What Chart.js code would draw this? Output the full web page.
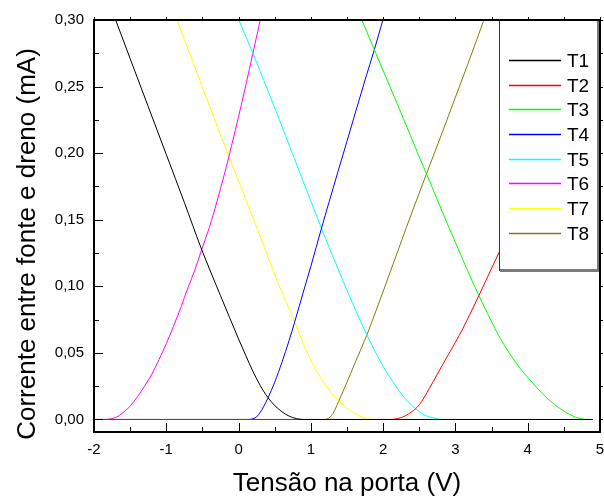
<!DOCTYPE html>
<html>
<head>
<meta charset="utf-8">
<script src="https://cdn.jsdelivr.net/npm/chart.js@4/dist/chart.umd.min.js"></script>
<style>
html,body{margin:0;padding:0;background:#fff;}
canvas{display:block;}
</style>
</head>
<body>
<canvas id="c" width="604" height="496"></canvas>
<script>
// ---- data (gate voltage V, drain current mA) ----
const seriesNames  = ['T1','T2','T3','T4','T5','T6','T7','T8'];
const seriesColors = ['#000000','#ff0000','#00ff00','#0000ff','#00ffff','#ff00ff','#ffff00','#808000'];

const T1 = [[-1.70,0.300],[-1.50,0.271],[-1.25,0.235],[-1.00,0.199],[-0.75,0.163],[-0.52,0.129],[-0.25,0.093],[0.00,0.0605],[0.10,0.048],[0.20,0.036],[0.30,0.0255],[0.405,0.0165],[0.50,0.0105],[0.60,0.0058],[0.70,0.0025],[0.80,0.0007],[0.90,0],[4.90,0]];
const T2 = [[-2.00,0],[2.10,0],[2.20,0.0007],[2.30,0.0025],[2.40,0.006],[2.50,0.011],[2.64,0.0234],[2.75,0.034],[2.873,0.046],[3.00,0.058],[3.10,0.068],[3.20,0.079],[3.324,0.093],[3.47,0.110],[3.586,0.1235],[3.80,0.148],[4.00,0.172],[4.25,0.202],[4.50,0.232],[4.75,0.262],[4.90,0.280]];
const T3 = [[1.705,0.300],[2.00,0.262],[2.25,0.230],[2.50,0.197],[2.596,0.185],[2.75,0.165],[2.895,0.146],[3.00,0.133],[3.15,0.114],[3.324,0.093],[3.45,0.079],[3.564,0.0665],[3.68,0.0555],[3.794,0.046],[3.90,0.038],[4.025,0.030],[4.15,0.0225],[4.256,0.0165],[4.37,0.0112],[4.486,0.0068],[4.58,0.0038],[4.67,0.0016],[4.75,0.0004],[4.82,0],[4.90,0]];
const T4 = [[-2.00,0],[0.15,0],[0.20,0.0006],[0.25,0.002],[0.30,0.0055],[0.35,0.0100],[0.405,0.016],[0.50,0.028],[0.60,0.043],[0.70,0.0595],[0.775,0.073],[0.90,0.0965],[1.00,0.115],[1.144,0.143],[1.25,0.163],[1.50,0.209],[1.75,0.255],[1.88,0.278],[1.996,0.300]];
const T5 = [[0.004,0.300],[0.198,0.275],[0.50,0.234],[0.75,0.199],[1.00,0.164],[1.144,0.144],[1.30,0.123],[1.50,0.097],[1.775,0.0635],[2.00,0.040],[2.134,0.0284],[2.30,0.016],[2.45,0.008],[2.55,0.004],[2.64,0.002],[2.75,0.0005],[2.85,0],[4.90,0]];
const T6 = [[-2.00,0],[-1.85,0],[-1.80,0.0002],[-1.70,0.0015],[-1.60,0.005],[-1.50,0.010],[-1.40,0.017],[-1.30,0.025],[-1.20,0.034],[-1.10,0.045],[-1.00,0.057],[-0.90,0.070],[-0.80,0.084],[-0.70,0.099],[-0.60,0.113],[-0.52,0.126],[-0.40,0.145],[-0.30,0.1635],[-0.20,0.1835],[-0.138,0.1965],[-0.10,0.205],[0.00,0.2275],[0.10,0.251],[0.198,0.275],[0.30,0.300]];
const T7 = [[-0.853,0.300],[-0.60,0.264],[-0.40,0.235],[-0.138,0.198],[0.00,0.179],[0.253,0.144],[0.40,0.123],[0.55,0.102],[0.775,0.0735],[0.90,0.0565],[1.00,0.0445],[1.10,0.0345],[1.20,0.026],[1.30,0.019],[1.383,0.0142],[1.46,0.0103],[1.55,0.0065],[1.64,0.0036],[1.72,0.0016],[1.80,0.0004],[1.88,0],[4.90,0]];
const T8 = [[-2.00,0],[1.20,0],[1.22,0.0003],[1.27,0.0020],[1.32,0.0058],[1.383,0.0135],[1.50,0.028],[1.60,0.041],[1.775,0.0635],[1.90,0.0815],[2.043,0.1025],[2.20,0.126],[2.32,0.144],[2.596,0.184],[2.80,0.213],[3.00,0.242],[3.20,0.271],[3.393,0.300]];

const seriesData = [T1,T2,T3,T4,T5,T6,T7,T8];

const xTickValues = [-2,-1,0,1,2,3,4,5];
const yTickValues = [0,0.05,0.10,0.15,0.20,0.25,0.30];
const xTitle = 'Tensão na porta (V)';
const yTitle = 'Corrente entre fonte e dreno (mA)';

const FONT = '"Liberation Sans", Arial, Helvetica, sans-serif';

function midpoints(arr){ const o=[]; for(let i=0;i<arr.length-1;i++) o.push((arr[i]+arr[i+1])/2); return o; }

const decor = {
  id: 'decor',
  afterDatasetsDraw(chart) {
    const {ctx, chartArea: a, scales: {x, y}} = chart;
    ctx.save();

    // legend box (inside plot, covers curves)
    const lx = 499, ly = 21, lr = 600, lb = 272;
    ctx.fillStyle = '#ffffff';
    ctx.fillRect(lx, ly, lr - lx, lb - ly);
    ctx.fillStyle = '#7a7a7a';
    ctx.fillRect(lx + 1, lb - 3, lr - lx - 1, 3);   // bottom shadow
    ctx.fillRect(lr - 3, ly, 3, lb - ly);           // right shadow
    ctx.fillStyle = '#333333';
    ctx.fillRect(lx, ly, 1, lb - ly - 1);           // left edge

    const ds = chart.data.datasets;
    ctx.font = '19px ' + FONT;
    ctx.textAlign = 'left';
    ctx.textBaseline = 'alphabetic';
    for (let i = 0; i < ds.length; i++) {
      const yc = Math.round(60 + i * 24.67);
      ctx.strokeStyle = seriesColors[i];
      ctx.lineWidth = 1.6;
      ctx.beginPath();
      ctx.moveTo(509, yc + 0.5);
      ctx.lineTo(561, yc + 0.5);
      ctx.stroke();
      ctx.fillStyle = '#000';
      ctx.fillText(ds[i].label, 567, yc + 7);
    }

    // ticks
    ctx.strokeStyle = '#000';
    ctx.lineWidth = 1;
    ctx.beginPath();
    const xMin = midpoints(xTickValues);
    const yMin = midpoints(yTickValues);
    for (const v of xTickValues) {
      const p = Math.round(x.getPixelForValue(v)) + 0.5;
      ctx.moveTo(p, a.bottom); ctx.lineTo(p, a.bottom - 9);
      ctx.moveTo(p, a.top); ctx.lineTo(p, a.top - 3);
    }
    for (const v of xMin) {
      const p = Math.round(x.getPixelForValue(v)) + 0.5;
      ctx.moveTo(p, a.bottom); ctx.lineTo(p, a.bottom - 5);
      ctx.moveTo(p, a.top); ctx.lineTo(p, a.top - 3);
    }
    for (const v of yTickValues) {
      const p = Math.round(y.getPixelForValue(v)) + 0.5;
      ctx.moveTo(a.left, p); ctx.lineTo(a.left + 9, p);
      ctx.moveTo(a.right, p); ctx.lineTo(a.right + 3, p);
    }
    for (const v of yMin) {
      const p = Math.round(y.getPixelForValue(v)) + 0.5;
      ctx.moveTo(a.left, p); ctx.lineTo(a.left + 5, p);
      ctx.moveTo(a.right, p); ctx.lineTo(a.right + 3, p);
    }
    ctx.stroke();

    // frame
    ctx.lineWidth = 2;
    ctx.strokeStyle = '#000';
    ctx.strokeRect(a.left, a.top, a.right - a.left, a.bottom - a.top);

    // axis titles
    ctx.fillStyle = '#000';
    ctx.font = '26px ' + FONT;
    ctx.textAlign = 'center';
    ctx.textBaseline = 'alphabetic';
    ctx.fillText(xTitle, (a.left + a.right) / 2, 491);
    ctx.translate(35, 244);
    ctx.rotate(-Math.PI / 2);
    ctx.fillText(yTitle, 0, 0);
    ctx.restore();
  }
};

new Chart(document.getElementById('c'), {
  type: 'line',
  data: {
    datasets: seriesData.map((d, i) => ({
      label: seriesNames[i],
      data: d.map(([vx, vy]) => ({x: vx, y: vy})),
      borderColor: seriesColors[i],
      backgroundColor: seriesColors[i],
      borderWidth: 1,
      pointRadius: 0,
      fill: false,
      cubicInterpolationMode: 'monotone'
    }))
  },
  options: {
    responsive: false,
    animation: false,
    devicePixelRatio: 1,
    layout: {padding: {top: 20, right: 4, left: 0, bottom: 0}},
    plugins: {legend: {display: false}, tooltip: {enabled: false}},
    scales: {
      x: {
        type: 'linear', min: -2, max: 5,
        afterBuildTicks: s => { s.ticks = xTickValues.map(v => ({value: v})); },
        afterFit: s => { s.height = 64; s.paddingLeft = 0; s.paddingRight = 0; },
        grid: {display: false, drawTicks: false},
        border: {display: false},
        ticks: {padding: 9, color: '#000', font: {size: 15, family: FONT}, autoSkip: false, maxRotation: 0,
                callback: v => String(v)}
      },
      y: {
        type: 'linear', min: -0.0094, max: 0.30,
        afterBuildTicks: s => { s.ticks = yTickValues.map(v => ({value: v})); },
        afterFit: s => { s.width = 94; s.paddingTop = 0; s.paddingBottom = 0; },
        grid: {display: false, drawTicks: false},
        border: {display: false},
        ticks: {padding: 10, color: '#000', font: {size: 15, family: FONT}, autoSkip: false,
                callback: v => Number(v).toFixed(2).replace('.', ',')}
      }
    }
  },
  plugins: [decor]
});
</script>
</body>
</html>
